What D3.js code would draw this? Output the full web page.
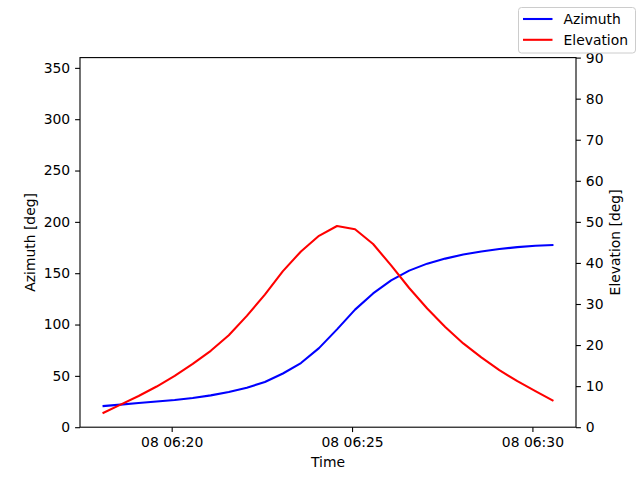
<!DOCTYPE html>
<html>
<head>
<meta charset="utf-8">
<script src="https://cdn.jsdelivr.net/npm/d3@7"></script>
<style>
  body { margin: 0; background: #fff; }
  svg { font-family: "DejaVu Sans", sans-serif; }
</style>
</head>
<body>
<svg id="chart" width="640" height="480"></svg>
<script>
// samples every 30 s, starting 06:18:05 UTC on the 8th
const startTime = "2024-01-08T06:18:05Z";
const stepSeconds = 30;
const azimuth = [20.5, 22, 23.5, 25, 26.5, 28.5, 31, 34.2, 38.5, 44, 52.3, 62.5, 77, 95.3, 114.5, 130.3, 143, 152.5, 159.3, 164.2, 168.2, 171.2, 173.6, 175.4, 176.7, 177.5];
const elevation = [3.4, 5.5, 7.6, 9.9, 12.5, 15.4, 18.6, 22.4, 27.1, 32.3, 38.0, 42.8, 46.6, 49.0, 48.2, 44.6, 39.4, 33.9, 28.9, 24.4, 20.4, 17.0, 13.9, 11.2, 8.8, 6.4];
const azTicks = [0, 50, 100, 150, 200, 250, 300, 350];
const elTicks = [0, 10, 20, 30, 40, 50, 60, 70, 80, 90];
const timeTicks = ["2024-01-08T06:20:00Z", "2024-01-08T06:25:00Z", "2024-01-08T06:30:00Z"];
const seriesNames = ["Azimuth", "Elevation"];
const seriesColors = ["blue", "red"];

const t0 = new Date(startTime);
const times = azimuth.map((_, i) => new Date(t0.getTime() + i * stepSeconds * 1000));

const svg = d3.select('#chart');
const plotL = 80, plotR = 576, plotT = 57.6, plotB = 427.2;
const fs = 13.9;

// matplotlib style 5% margin on x
const ext = d3.extent(times);
const pad = (ext[1] - ext[0]) * 0.05;
const x = d3.scaleUtc().domain([new Date(+ext[0] - pad), new Date(+ext[1] + pad)]).range([plotL, plotR]);
const yAz = d3.scaleLinear().domain([0, 360]).range([plotB, plotT]);
const yEl = d3.scaleLinear().domain([0, 90]).range([plotB, plotT]);

const lineAz = d3.line().x((d, i) => x(times[i])).y(d => yAz(d));
const lineEl = d3.line().x((d, i) => x(times[i])).y(d => yEl(d));

svg.append('path').datum(azimuth).attr('d', lineAz)
  .attr('fill', 'none').attr('stroke', seriesColors[0]).attr('stroke-width', 2.08).attr('stroke-linejoin', 'round');
svg.append('path').datum(elevation).attr('d', lineEl)
  .attr('fill', 'none').attr('stroke', seriesColors[1]).attr('stroke-width', 2.08).attr('stroke-linejoin', 'round');

function styleAxis(g) {
  g.select('.domain').remove();
  g.selectAll('.tick line').attr('stroke', '#000').attr('stroke-width', 1.1);
  g.selectAll('.tick text').attr('fill', '#000').attr('font-size', fs).attr('font-family', '"DejaVu Sans", sans-serif');
}

const fmt = d3.utcFormat('%d %H:%M');
svg.append('g').attr('transform', `translate(0,${plotB})`)
  .call(d3.axisBottom(x).tickValues(timeTicks.map(s => new Date(s))).tickFormat(fmt).tickSize(4.9).tickPadding(4.9))
  .call(styleAxis);
svg.append('g').attr('transform', `translate(${plotL},0)`)
  .call(d3.axisLeft(yAz).tickValues(azTicks).tickSize(4.9).tickPadding(4.9))
  .call(styleAxis);
svg.append('g').attr('transform', `translate(${plotR},0)`)
  .call(d3.axisRight(yEl).tickValues(elTicks).tickSize(4.9).tickPadding(4.9))
  .call(styleAxis);

// frame
svg.append('rect').attr('x', plotL).attr('y', plotT).attr('width', plotR - plotL).attr('height', plotB - plotT)
  .attr('fill', 'none').attr('stroke', '#000').attr('stroke-width', 1.1);

// axis labels
svg.append('text').attr('x', (plotL + plotR) / 2).attr('y', 467).attr('text-anchor', 'middle')
  .attr('font-size', fs).text('Time');
svg.append('text').attr('transform', `translate(35,${(plotT + plotB) / 2}) rotate(-90)`).attr('text-anchor', 'middle')
  .attr('font-size', fs).text('Azimuth [deg]');
svg.append('text').attr('transform', `translate(620,${(plotT + plotB) / 2}) rotate(-90)`).attr('text-anchor', 'middle')
  .attr('font-size', fs).text('Elevation [deg]');

// figure legend, upper right
const lg = svg.append('g');
lg.append('rect').attr('x', 518.5).attr('y', 7.5).attr('width', 117).attr('height', 45.5).attr('rx', 3)
  .attr('fill', '#fff').attr('fill-opacity', 0.8).attr('stroke', '#ccc');
seriesNames.forEach((name, i) => {
  const cy = 19 + i * 20.8;
  lg.append('line').attr('x1', 523).attr('x2', 552.5).attr('y1', cy).attr('y2', cy)
    .attr('stroke', seriesColors[i]).attr('stroke-width', 2.08);
  lg.append('text').attr('x', 563.5).attr('y', cy).attr('dy', '0.35em').attr('font-size', fs).text(name);
});
</script>
</body>
</html>
